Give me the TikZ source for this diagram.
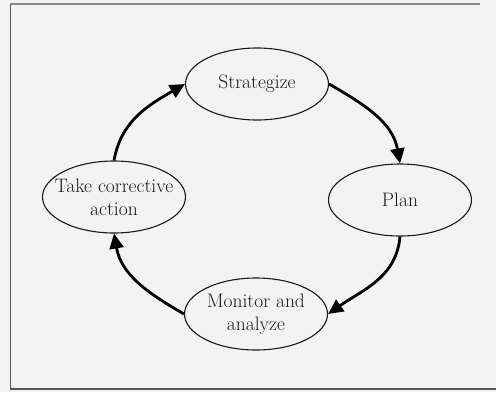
\documentclass[tikz,border=0pt]{standalone}
\usetikzlibrary{arrows.meta,shapes.geometric}
\definecolor{paper}{HTML}{F3F3F3}
\definecolor{ink}{HTML}{1A1A1A}
\definecolor{rule}{HTML}{555555}
\begin{document}
\begin{tikzpicture}[x=1pt,y=-1pt,
  stage/.style={draw=ink, line width=1.1pt, ellipse, minimum width=143pt, minimum height=72pt,
    inner xsep=-12pt, inner ysep=0pt, align=center, text=ink, font=\fontsize{19.5}{23}\selectfont},
  flow/.style={draw=black, line width=2.8pt, -{Triangle[length=15pt,width=14pt]}}]
  % page and frame
  \fill[paper] (0,0) rectangle (496,392);
  \useasboundingbox (0,0) rectangle (496,392);
  \draw[rule, line width=1.2pt] (10.5,3) -- (10.5,389);
  \draw[rule!70, line width=1.2pt] (10,4) -- (480,4);
  \draw[rule, line width=2pt] (10,388.5) -- (496,388.5);
  % the four stages
  \node[stage] (s) at (257,84) {Strategize};
  \node[stage] (p) at (400,200) {Plan};
  \node[stage] (m) at (256,314) {Monitor and\\analyze};
  \node[stage] (t) at (114,197) {Take corrective\\action};
  % the cycle
  \draw[flow] (s.east) to[out=-30,in=100] (p.north);
  \draw[flow] (p.south) to[out=-95,in=35] (m.east);
  \draw[flow] (m.west) to[out=150,in=-80] (t.south);
  \draw[flow] (t.north) to[out=80,in=210] (s.west);
\end{tikzpicture}
\end{document}
